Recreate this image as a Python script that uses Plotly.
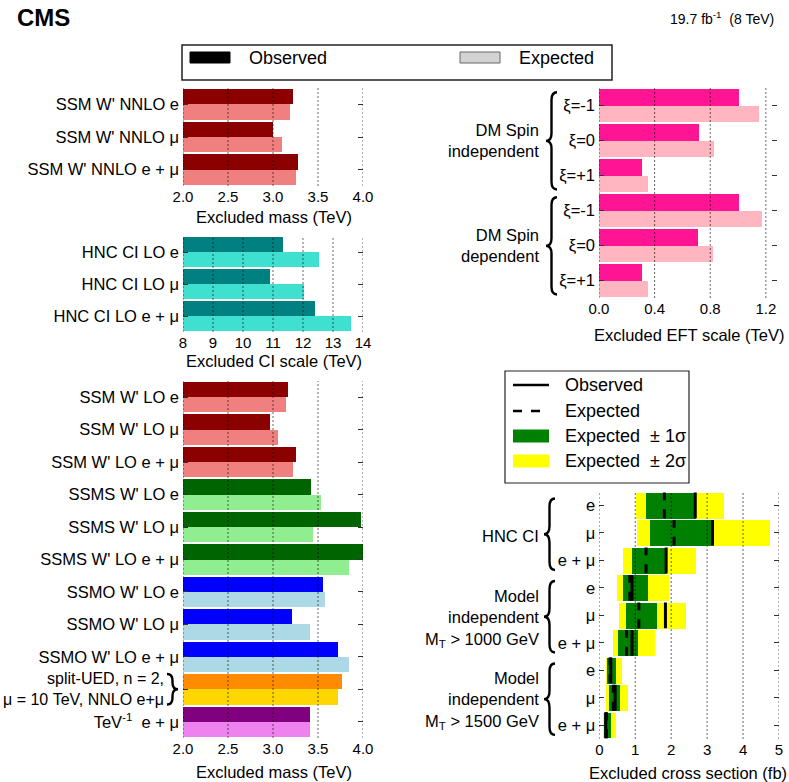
import plotly.graph_objects as go

# ---- data ----
nnlo_labels = ["SSM W' NNLO e", "SSM W' NNLO μ", "SSM W' NNLO e + μ"]
nnlo_obs = [3.22, 3.00, 3.28]
nnlo_exp = [3.19, 3.10, 3.26]

hnc_labels = ["HNC CI LO e", "HNC CI LO μ", "HNC CI LO e + μ"]
hnc_obs = [11.32, 10.90, 12.41]
hnc_exp = [12.52, 12.02, 13.61]

lo_labels = ["SSM W' LO e", "SSM W' LO μ", "SSM W' LO e + μ",
             "SSMS W' LO e", "SSMS W' LO μ", "SSMS W' LO e + μ",
             "SSMO W' LO e", "SSMO W' LO μ", "SSMO W' LO e + μ",
             "", "TeV<sup>-1</sup>\u00a0 e + μ"]
lo_obs = [3.17, 2.97, 3.26, 3.42, 3.98, 4.02, 3.55, 3.21, 3.72, 3.77, 3.41]
lo_exp = [3.14, 3.06, 3.22, 3.53, 3.44, 3.84, 3.58, 3.41, 3.84, 3.72, 3.41]
lo_obs_colors = ["#8B0000"] * 3 + ["#006400"] * 3 + ["#0000FF"] * 3 + ["#FF8C00", "#800080"]
lo_exp_colors = ["#F08080"] * 3 + ["#90EE90"] * 3 + ["#ADD8E6"] * 3 + ["#FFD700", "#EE82EE"]

dm_labels = ["ξ=-1", "ξ=0", "ξ=+1", "ξ=-1", "ξ=0", "ξ=+1"]
dm_obs = [1.01, 0.72, 0.31, 1.005, 0.71, 0.31]
dm_exp = [1.15, 0.826, 0.35, 1.17, 0.82, 0.353]

xs_labels = ["e", "μ", "e + μ"] * 3
xs_obs = [2.67, 3.15, 1.86, 0.91, 1.84, 0.91, 0.32, 0.44, 0.18]
xs_exp = [1.81, 2.08, 1.30, 0.85, 1.10, 0.76, 0.30, 0.39, 0.20]
xs_lo1 = [1.32, 1.43, 0.91, 0.66, 0.76, 0.53, 0.23, 0.27, 0.15]
xs_hi1 = [2.71, 3.13, 1.89, 1.37, 1.62, 1.09, 0.46, 0.58, 0.34]
xs_lo2 = [1.02, 1.07, 0.67, 0.50, 0.55, 0.40, 0.19, 0.20, 0.11]
xs_hi2 = [3.49, 4.75, 2.71, 1.94, 2.41, 1.57, 0.65, 0.81, 0.48]

mass_ticks = [2.0, 2.5, 3.0, 3.5, 4.0]
ci_ticks = [8, 9, 10, 11, 12, 13, 14]
eft_ticks = [0.0, 0.4, 0.8, 1.2]
xs_ticks = [0, 1, 2, 3, 4, 5]

W, H = 789, 782
FONT = "Liberation Sans, Arial, Helvetica, sans-serif"
LABEL_SIZE = 16.5
TITLE_SIZE = 16.5


def px(x):
    return x / W


def py(y):
    return 1 - y / H


fig = go.Figure()
shapes = []
annotations = []


def centers(n):
    return [n - 1 - i for i in range(n)]


def bar_panel(k, obs, exp, obs_col, exp_col):
    c = centers(len(obs))
    xa, ya = ("x", "y") if k == 1 else (f"x{k}", f"y{k}")
    fig.add_trace(go.Bar(y=[v + 0.235 for v in c], x=obs, orientation="h", width=0.47,
                         marker=dict(color=obs_col, line=dict(width=0)),
                         xaxis=xa, yaxis=ya, hoverinfo="x"))
    fig.add_trace(go.Bar(y=[v - 0.235 for v in c], x=exp, orientation="h", width=0.47,
                         marker=dict(color=exp_col, line=dict(width=0)),
                         xaxis=xa, yaxis=ya, hoverinfo="x"))


bar_panel(1, nnlo_obs, nnlo_exp, "#8B0000", "#F08080")
bar_panel(2, hnc_obs, hnc_exp, "#008080", "#40E0D0")
bar_panel(3, lo_obs, lo_exp, lo_obs_colors, lo_exp_colors)
bar_panel(4, dm_obs, dm_exp, "#FF1493", "#FFB6C1")

# cross-section panel: bands + lines
c5 = centers(len(xs_obs))
fig.add_trace(go.Bar(y=c5, base=xs_lo2, x=[h - l for l, h in zip(xs_lo2, xs_hi2)],
                     orientation="h", width=0.94, marker=dict(color="#FFFF00", line=dict(width=0)),
                     xaxis="x5", yaxis="y5"))
fig.add_trace(go.Bar(y=c5, base=xs_lo1, x=[h - l for l, h in zip(xs_lo1, xs_hi1)],
                     orientation="h", width=0.94, marker=dict(color="#008000", line=dict(width=0)),
                     xaxis="x5", yaxis="y5"))


def seg(vals, cs):
    xx, yy = [], []
    for v, c in zip(vals, cs):
        xx += [v, v, None]
        yy += [c - 0.47, c + 0.47, None]
    return xx, yy


ex, ey = seg(xs_exp, c5)
fig.add_trace(go.Scatter(x=ex, y=ey, mode="lines", line=dict(color="black", width=3, dash="dash"),
                         xaxis="x5", yaxis="y5"))
ox, oy = seg(xs_obs, c5)
fig.add_trace(go.Scatter(x=ox, y=oy, mode="lines", line=dict(color="black", width=3),
                         xaxis="x5", yaxis="y5"))

# ---- axes ----
numfont = dict(family=FONT, size=15, color="black")
labfont = dict(family=FONT, size=LABEL_SIZE, color="black")
panels = [
    # k, x-range, ticks, fmt, labels, x px, y px
    (1, [2, 4], mass_ticks, ".1f", nnlo_labels, (183, 363), (88, 186)),
    (2, [8, 14], ci_ticks, "d", hnc_labels, (183, 363), (236, 332)),
    (3, [2, 4], mass_ticks, ".1f", lo_labels, (183, 363), (381, 738)),
    (4, [0, 1.28], eft_ticks, ".1f", dm_labels, (599, 777), (88, 298)),
    (5, [0, 5], xs_ticks, "d", xs_labels, (599.3, 779), (491.7, 739)),
]
layout_axes = {}
for k, xr, tv, fmt, labels, (x0, x1), (y0, y1) in panels:
    xn = "xaxis" if k == 1 else f"xaxis{k}"
    yn = "yaxis" if k == 1 else f"yaxis{k}"
    xa = "x" if k == 1 else f"x{k}"
    ya = "y" if k == 1 else f"y{k}"
    n = len(labels)
    layout_axes[xn] = dict(domain=[px(x0), px(x1)], range=xr, anchor=ya, tickvals=tv,
                           tickformat=fmt, showgrid=False, zeroline=False, showline=False,
                           ticks="", tickfont=numfont, fixedrange=True, automargin=False)
    layout_axes[yn] = dict(domain=[py(y1), py(y0)], range=[-0.5, n - 0.5], anchor=xa,
                           tickvals=centers(n), ticktext=labels, showgrid=False,
                           zeroline=False, showline=False, ticks="inside", ticklen=5,
                           tickcolor="#333", mirror="ticks", tickfont=labfont,
                           ticklabelstandoff=3, fixedrange=True, automargin=False)
    for v in tv:
        shapes.append(dict(type="line", xref=xa, yref=f"{ya} domain", x0=v, x1=v, y0=0, y1=1,
                           line=dict(color="rgba(0,0,0,0.6)", width=1, dash="2px,2px"),
                           layer="above"))

# axis titles
for text, xc, yc in [("Excluded mass (TeV)", 274, 217),
                     ("Excluded CI scale (TeV)", 274, 361),
                     ("Excluded mass (TeV)", 274, 772),
                     ("Excluded EFT scale (TeV)", 689, 335),
                     ("Excluded cross section (fb)", 688, 773)]:
    annotations.append(dict(text=text, x=px(xc), y=py(yc), xref="paper", yref="paper",
                            showarrow=False, xanchor="center", yanchor="middle",
                            font=dict(family=FONT, size=TITLE_SIZE, color="black")))


def brace(x_tip, x_end, ytop, ybot, yref, r):
    xm = (x_tip + x_end) / 2
    ym = (ytop + ybot) / 2
    xt, xe, xmm = px(x_tip), px(x_end), px(xm)
    path = (f"M {xe},{ytop} Q {xmm},{ytop} {xmm},{ytop - r} L {xmm},{ym + r} "
            f"Q {xmm},{ym} {xt},{ym} Q {xmm},{ym} {xmm},{ym - r} L {xmm},{ybot + r} "
            f"Q {xmm},{ybot} {xe},{ybot}")
    return dict(type="path", path=path, xref="paper", yref=yref,
                line=dict(color="black", width=2.4), layer="above")


# DM groups
c4 = centers(len(dm_labels))
for g, name in enumerate(["DM Spin<br>independent", "DM Spin<br>dependent"]):
    top = c4[3 * g] + 0.5
    bot = c4[3 * g + 2] - 0.5
    shapes.append(brace(546, 557, top - 0.12, bot + 0.1, "y4", 0.22))
    annotations.append(dict(text=name, x=px(541), y=(top + bot) / 2, xref="paper", yref="y4",
                            showarrow=False, xanchor="right", yanchor="middle", align="right",
                            font=labfont))

# cross-section groups
for g, name in enumerate(["HNC CI",
                          "Model<br>independent<br>M<sub>T</sub> > 1000 GeV",
                          "Model<br>independent<br>M<sub>T</sub> > 1500 GeV"]):
    top = c5[3 * g] + 0.5
    bot = c5[3 * g + 2] - 0.5
    shapes.append(brace(544, 555, top - 0.25, bot + 0.15, "y5", 0.3))
    annotations.append(dict(text=name, x=px(541), y=(top + bot) / 2 - 0.1, xref="paper",
                            yref="y5", showarrow=False, xanchor="right", yanchor="middle",
                            align="right", font=labfont))

# split-UED label
c3 = centers(len(lo_labels))
shapes.append(brace(178, 167, c3[9] + 0.47, c3[9] - 0.47, "y3", 0.2))
annotations.append(dict(text="split-UED, n = 2,<br>μ = 10 TeV, NNLO e+μ", x=px(166), y=c3[9],
                        xref="paper", yref="y3", showarrow=False, xanchor="right",
                        yanchor="middle", align="right",
                        font=dict(family=FONT, size=16, color="black")))

# ---- legend 1 (top) ----
shapes.append(dict(type="rect", xref="paper", yref="paper", x0=px(182), x1=px(612),
                   y0=py(80), y1=py(45), line=dict(color="#222", width=1.5)))
shapes.append(dict(type="rect", xref="paper", yref="paper", x0=px(190), x1=px(230),
                   y0=py(63), y1=py(52), fillcolor="black", line=dict(color="black", width=1)))
shapes.append(dict(type="rect", xref="paper", yref="paper", x0=px(460), x1=px(500),
                   y0=py(63), y1=py(52), fillcolor="#d3d3d3", line=dict(color="#666", width=1)))
for text, xl in [("Observed", 247), ("Expected", 517)]:
    annotations.append(dict(text=text, x=px(xl), y=py(58), xref="paper", yref="paper",
                            showarrow=False, xanchor="left", yanchor="middle",
                            font=dict(family=FONT, size=18, color="black")))

# ---- legend 2 (cross section) ----
shapes.append(dict(type="rect", xref="paper", yref="paper", x0=px(505), x1=px(689),
                   y0=py(483), y1=py(371), line=dict(color="#222", width=1.2)))
shapes.append(dict(type="line", xref="paper", yref="paper", x0=px(513), x1=px(549),
                   y0=py(385), y1=py(385), line=dict(color="black", width=2.5)))
shapes.append(dict(type="line", xref="paper", yref="paper", x0=px(513), x1=px(549),
                   y0=py(411), y1=py(411), line=dict(color="black", width=2.5, dash="dash")))
shapes.append(dict(type="rect", xref="paper", yref="paper", x0=px(513), x1=px(549),
                   y0=py(442.5), y1=py(429.5), fillcolor="#008000", line=dict(width=0)))
shapes.append(dict(type="rect", xref="paper", yref="paper", x0=px(513), x1=px(549),
                   y0=py(467.5), y1=py(454.5), fillcolor="#FFFF00", line=dict(width=0)))
for text, yc in [("Observed", 385), ("Expected", 411),
                 ("Expected  ± 1σ", 436), ("Expected  ± 2σ", 461)]:
    annotations.append(dict(text=text, x=px(563), y=py(yc), xref="paper", yref="paper",
                            showarrow=False, xanchor="left", yanchor="middle",
                            font=dict(family=FONT, size=18, color="black")))

# ---- header ----
annotations.append(dict(text="<b>CMS</b>", x=px(15), y=py(18), xref="paper", yref="paper",
                        showarrow=False, xanchor="left", yanchor="middle",
                        font=dict(family=FONT, size=24, color="black")))
annotations.append(dict(text="19.7 fb<sup>-1</sup>\u00a0 (8 TeV)", x=px(776), y=py(18),
                        xref="paper", yref="paper", showarrow=False, xanchor="right",
                        yanchor="middle", font=dict(family=FONT, size=14, color="black")))

fig.update_layout(width=W, height=H, margin=dict(l=0, r=0, t=0, b=0, pad=0, autoexpand=False),
                  paper_bgcolor="white", plot_bgcolor="white", showlegend=False,
                  barmode="overlay", bargap=0, font=dict(family=FONT, size=15, color="black"),
                  shapes=shapes, annotations=annotations, **layout_axes)

fig.write_html("out.html", config={"displayModeBar": False},
               post_script="document.body.style.margin='0';")
